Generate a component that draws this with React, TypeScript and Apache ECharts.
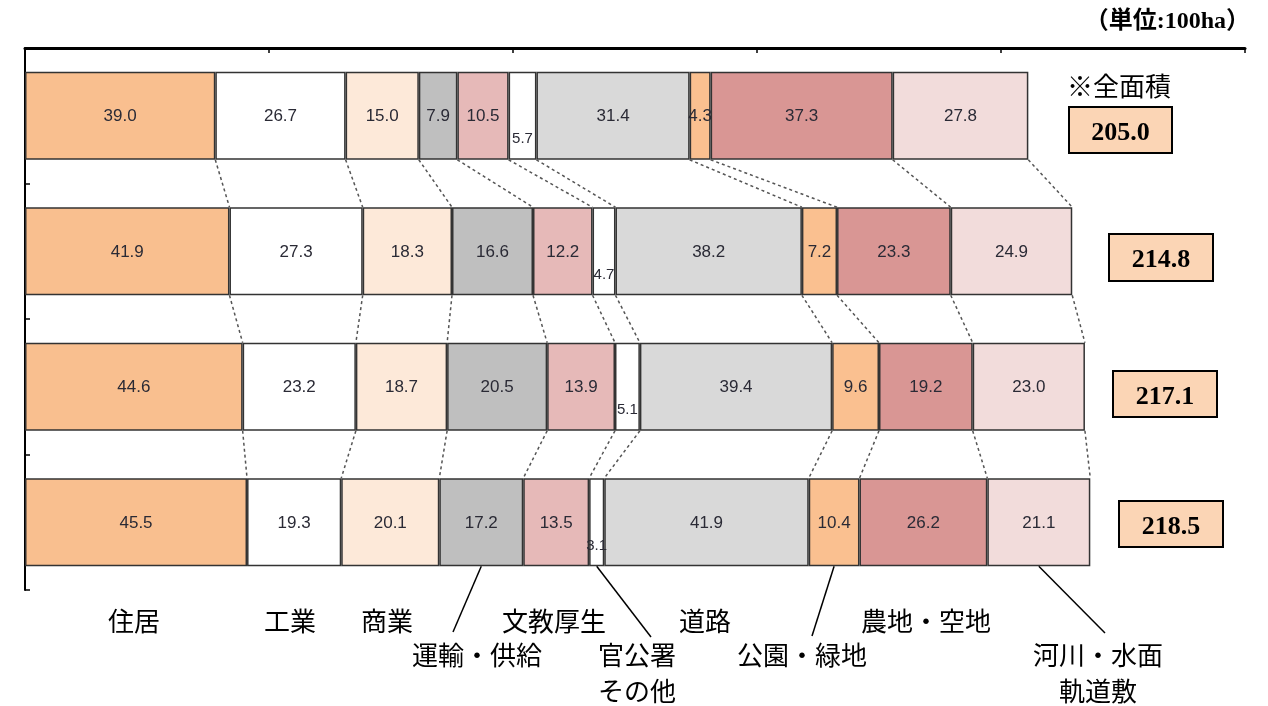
import React, { useEffect, useRef } from 'react';
import * as echarts from 'echarts';

// ---- data ----
const rows = ['1', '2', '3', '4'];
const landUses = ['住居', '工業', '商業', '運輸・供給', '文教厚生', '官公署その他', '道路', '公園・緑地', '農地・空地', '河川・水面・軌道敷'];
const residential = [39.0, 41.9, 44.6, 45.5];
const industrial = [26.7, 27.3, 23.2, 19.3];
const commercial = [15.0, 18.3, 18.7, 20.1];
const transport = [7.9, 16.6, 20.5, 17.2];
const education = [10.5, 12.2, 13.9, 13.5];
const government = [5.7, 4.7, 5.1, 3.1];
const roads = [31.4, 38.2, 39.4, 41.9];
const parks = [4.3, 7.2, 9.6, 10.4];
const farmland = [37.3, 23.3, 19.2, 26.2];
const waterRail = [27.8, 24.9, 23.0, 21.1];
const totals = [205.0, 214.8, 217.1, 218.5];
const xMax = 250;
const xInterval = 50;

const seriesValues = [residential, industrial, commercial, transport, education, government, roads, parks, farmland, waterRail];
const colors = ['#F9BF8F', '#FFFFFF', '#FDE9D9', '#BFBFBF', '#E6B9B8', '#FFFFFF', '#D9D9D9', '#FAC090', '#D99694', '#F2DCDB'];

const BAR_FRAC = 0.65;

function cumAt(k: number, r: number) {
  let s = 0;
  for (let i = 0; i < k; i++) s += seriesValues[i][r];
  return s;
}

export default function App() {
  const ref = useRef<HTMLDivElement>(null);
  useEffect(() => {
    if (!ref.current) return;
    const chart = echarts.init(ref.current, null, { renderer: 'svg' });

    const connectorData: number[][] = [];
    for (let r = 0; r < rows.length - 1; r++) {
      for (let k = 1; k <= seriesValues.length; k++) {
        connectorData.push([cumAt(k, r), cumAt(k, r + 1), r]);
      }
    }

    const barSeries = landUses.map((name, i) => ({
      name,
      type: 'bar',
      stack: 'total',
      barWidth: BAR_FRAC * 100 + '%',
      data: seriesValues[i],
      itemStyle: { color: colors[i], borderColor: '#333', borderWidth: 1.5 },
      label: {
        show: true,
        position: 'inside',
        formatter: (p: any) => Number(p.value).toFixed(1),
        fontFamily: 'Liberation Sans, Arial, sans-serif',
        fontSize: i === 5 ? 15 : 17,
        color: '#2a2a35',
        offset: i === 5 ? [0, 22] : [0, 0],
      },
      emphasis: { disabled: true },
    }));

    const option: any = {
      animation: false,
      grid: { left: 25, right: 23, top: 48, bottom: 116 },
      xAxis: {
        type: 'value',
        position: 'top',
        min: 0,
        max: xMax,
        interval: xInterval,
        axisLine: { show: true, lineStyle: { color: '#000', width: 3 } },
        axisTick: { show: true, inside: true, length: 5, lineStyle: { color: '#000', width: 1.5 } },
        axisLabel: { show: false },
        splitLine: { show: false },
      },
      yAxis: {
        type: 'category',
        data: rows,
        inverse: true,
        axisLine: { show: true, lineStyle: { color: '#000', width: 2 } },
        axisTick: { show: true, inside: true, length: 5, lineStyle: { color: '#000', width: 1.5 } },
        axisLabel: { show: false },
      },
      series: [
        ...barSeries,
        {
          type: 'custom',
          name: 'connectors',
          data: connectorData,
          encode: { x: [0, 1], y: 2 },
          z: 5,
          renderItem: (params: any, api: any) => {
            const xTop = api.value(0);
            const xBot = api.value(1);
            const r = api.value(2);
            const p1 = api.coord([xTop, r]);
            const p2 = api.coord([xBot, r + 1]);
            const band = api.size([0, 1])[1];
            const half = (band * BAR_FRAC) / 2;
            return {
              type: 'line',
              shape: { x1: p1[0], y1: p1[1] + half, x2: p2[0], y2: p2[1] - half },
              style: { stroke: '#555', lineWidth: 1.5, lineDash: [3, 3] },
            };
          },
        },
      ],
    };
    chart.setOption(option);

    // annotations: category names under the chart with leader lines
    const last = rows.length - 1;
    const c0 = chart.convertToPixel({ gridIndex: 0 }, [0, last]) as number[];
    const c1 = chart.convertToPixel({ gridIndex: 0 }, [0, last - 1]) as number[];
    const band = Math.abs(c0[1] - c1[1]);
    const barBottom = c0[1] + (band * BAR_FRAC) / 2;
    const segCenterX = (k: number) =>
      (chart.convertToPixel({ gridIndex: 0 }, [cumAt(k, last) + seriesValues[k][last] / 2, last]) as number[])[0];

    const labelFont = '"Noto Sans CJK JP", sans-serif';
    const txt = (text: string, x: number, y: number) => ({
      type: 'text',
      x,
      y,
      style: { text, fontSize: 26, fontFamily: labelFont, fill: '#000', align: 'center', verticalAlign: 'middle' },
    });
    const leader = (k: number, x2: number, y2: number) => ({
      type: 'line',
      shape: { x1: segCenterX(k), y1: barBottom, x2, y2 },
      style: { stroke: '#000', lineWidth: 1.5 },
    });

    const boxes = [
      { x: 1069, y: 107, w: 103, h: 46 },
      { x: 1109, y: 234, w: 104, h: 47 },
      { x: 1113, y: 371, w: 104, h: 46 },
      { x: 1119, y: 501, w: 104, h: 46 },
    ];
    const boxEls: any[] = [];
    boxes.forEach((b, i) => {
      boxEls.push({
        type: 'rect',
        shape: { x: b.x, y: b.y, width: b.w, height: b.h },
        style: { fill: '#FBD5B5', stroke: '#000', lineWidth: 2 },
      });
      boxEls.push({
        type: 'text',
        x: b.x + b.w / 2,
        y: b.y + b.h / 2 + 1,
        style: {
          text: totals[i].toFixed(1),
          fontSize: 26,
          fontWeight: 'bold',
          fontFamily: '"Liberation Serif", "Times New Roman", serif',
          fill: '#000',
          align: 'center',
          verticalAlign: 'middle',
        },
      });
    });

    chart.setOption({
      graphic: [
        {
          type: 'text',
          right: 18,
          top: 8,
          style: {
            text: '（単位:100ha）',
            fontSize: 24,
            fontWeight: 'bold',
            fontFamily: '"Liberation Serif", "Noto Sans CJK JP", serif',
            fill: '#000',
          },
        },
        {
          type: 'text',
          x: 1067,
          y: 84,
          style: { text: '※全面積', fontSize: 26, fontFamily: labelFont, fill: '#000', align: 'left', verticalAlign: 'middle' },
        },
        ...boxEls,
        txt('住居', 134, 619),
        txt('工業', 290, 619),
        txt('商業', 387, 619),
        txt('運輸・供給', 477, 653),
        txt('文教厚生', 554, 619),
        txt('官公署', 637, 653),
        txt('その他', 637, 689),
        txt('道路', 705, 619),
        txt('公園・緑地', 802, 653),
        txt('農地・空地', 926, 619),
        txt('河川・水面', 1098, 653),
        txt('軌道敷', 1098, 689),
        leader(3, 453, 632),
        leader(5, 651, 637),
        leader(7, 812, 636),
        leader(9, 1105, 633),
      ],
    });

    return () => chart.dispose();
  }, []);
  return <div ref={ref} style={{ position: 'fixed', left: 0, top: 0, width: 1268, height: 706 }} />;
}
